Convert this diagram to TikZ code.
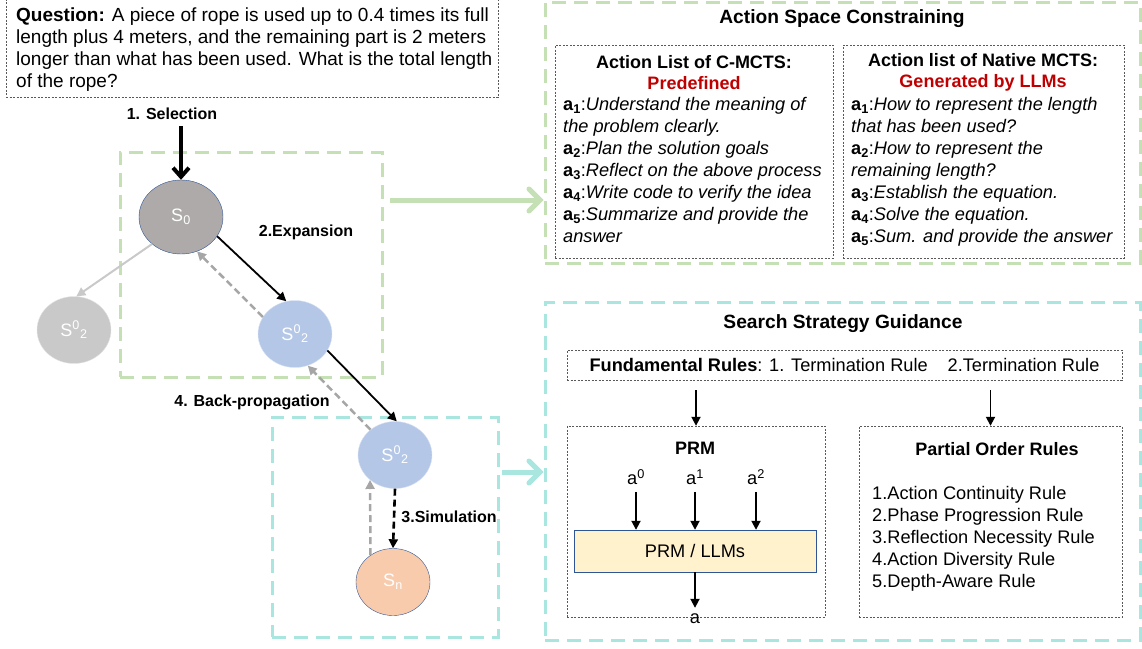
\documentclass[tikz,border=0pt]{standalone}
\usepackage{fontspec}
\setmainfont{Liberation Sans}
\usetikzlibrary{arrows.meta, calc, positioning, shapes.geometric}
\definecolor{BoxGreen}{HTML}{C5E0B4}
\definecolor{BoxCyan}{HTML}{A9E6DF}
\definecolor{StateGray}{HTML}{AEAAAA}
\definecolor{StateLight}{HTML}{C9C9C9}
\definecolor{StateBlue}{HTML}{B4C7E7}
\definecolor{StateOrange}{HTML}{F8CBAD}
\definecolor{RimBlue}{HTML}{2F5597}
\definecolor{TextRed}{HTML}{C00000}
\definecolor{PRMYellow}{HTML}{FFF2CC}
\definecolor{BackGray}{HTML}{A6A6A6}

\begin{document}
\begin{tikzpicture}[x = 1pt, y = -1pt]%
    %
    \def\statewidth{74pt}%
    \def\stateheight{67pt}%
    %
    \tikzstyle{state} = [ellipse, minimum width = \statewidth, minimum height = \stateheight, inner sep = 0pt, text = white, font = \fontsize{18}{20}\selectfont]%
    \tikzstyle{stepname} = [font = \fontsize{16}{18}\selectfont\bfseries, inner sep = 0pt]%
    \tikzstyle{body} = [font = \fontsize{18.2}{22}\selectfont, inner sep = 0pt]%
    \tikzstyle{title} = [font = \fontsize{19.2}{21}\selectfont\bfseries, inner sep = 0pt]%
    \tikzstyle{subtitle} = [font = \fontsize{18}{21}\selectfont\bfseries, inner sep = 0pt]%
    \tikzstyle{dotbox} = [draw = black!65, dash pattern = on 2pt off 1.5pt, thin, inner sep = 0pt]%
    \tikzstyle{greenbox} = [draw = BoxGreen, line width = 3pt, dash pattern = on 14pt off 8pt, inner sep = 0pt]%
    \tikzstyle{cyanbox} = [greenbox, draw = BoxCyan]%
    \tikzstyle{arrow} = [-{Triangle[length = 9pt, width = 9pt]}, line width = 1.8pt, draw = black]%
    \tikzstyle{backarrow} = [arrow, draw = BackGray, line width = 2.5pt, dash pattern = on 7pt off 4pt]%
    \tikzstyle{bigarrow} = [-{Straight Barb[length = 9pt, width = 16pt]}, line width = 4pt, draw = black]%
    \tikzstyle{flowarrow} = [-{Straight Barb[length = 11pt, width = 22pt, line cap = round]}, line width = 5pt]%
    %
    \useasboundingbox (0, 0) rectangle (1142, 648);%
    %
    % Question
    \node (question) [dotbox, minimum width = 492pt, minimum height = 98pt] at (252, 48) {};%
    \node (qtext) [body, font = \fontsize{19}{22}\selectfont, anchor = north west, align = left] at (16, 8) {\textbf{Question:} A piece of rope is used up to 0.4 times its full\\ length plus 4 meters, and the remaining part is 2 meters\\ longer than what has been used. What is the total length\\ of the rope?};%
    %
    % Phase boxes
    \node (expand) [greenbox, minimum width = 262pt, minimum height = 225pt] at (251, 264.5) {};%
    \node (simulate) [cyanbox, minimum width = 226pt, minimum height = 220pt] at (385, 527) {};%
    %
    % States
    \node (s0) [state, fill = StateGray, draw = RimBlue, minimum width = 84pt, minimum height = 74pt] at (181, 217) {S\textsubscript{0}};%
    \node (s1) [state, fill = StateLight, draw = StateLight!50] at (74, 330) {S\textsuperscript{0}\textsubscript{2}};%
    \node (s2) [state, fill = StateBlue, draw = StateBlue!50] at (295, 334) {S\textsuperscript{0}\textsubscript{2}};%
    \node (s3) [state, fill = StateBlue, draw = StateBlue!50] at (395, 455) {S\textsuperscript{0}\textsubscript{2}};%
    \node (sn) [state, fill = StateOrange, draw = RimBlue] at (393, 582) {S\textsubscript{n}};%
    %
    % Step names
    \node (selection) [stepname] at (172, 114) {1. Selection};%
    \node (expansion) [stepname] at (306, 232) {2.Expansion};%
    \node (backprop) [stepname] at (252, 402) {4. Back-propagation};%
    \node (simulation) [stepname] at (449, 517) {3.Simulation};%
    %
    % Tree edges
    \draw [bigarrow] (s0.north |- selection.south) ++(0, 6) -- (s0.north);%
    \draw [arrow, draw = StateLight, line width = 2pt] (s0.-137) -- (s1.86);%
    \draw [arrow] (s0.-28) -- (s2.105);%
    \draw [arrow] (s2.-27) -- (s3.87);%
    \draw [arrow, line width = 2.6pt, dash pattern = on 7pt off 4pt] (s3.-90) -- (sn.90);%
    %
    % Back-propagation
    \draw [backarrow] (sn.130) -- (s3.-135);%
    \draw [backarrow] (s3.134) -- (s2.-68);%
    \draw [backarrow] (s2.152) -- (s0.-65);%
    %
    % Action space
    \node (asc) [greenbox, minimum width = 595pt, minimum height = 261pt] at (842.5, 132.5) {};%
    \node (asctitle) [title] at (842, 19) {Action Space Constraining};%
    \node (cmcts) [dotbox, minimum width = 278pt, minimum height = 213pt] at (694, 151.5) {};%
    \node (native) [dotbox, minimum width = 281pt, minimum height = 213pt] at (983.5, 151.5) {};%
    \node (cmctstitle) [subtitle, align = center] at (694, 72.5) {Action List of C-MCTS:\\ \textcolor{TextRed}{Predefined}};%
    \node (nativetitle) [subtitle, align = center] at (983, 72.5) {Action list of Native MCTS:\\ \textcolor{TextRed}{Generated by LLMs}};%
    \node (cmctslist) [body, anchor = north west, align = left] at (563, 97) {%
        \textbf{a\textsubscript{1}}:\textit{Understand the meaning of}\\
        \textit{the problem clearly.}\\
        \textbf{a\textsubscript{2}}:\textit{Plan the solution goals}\\
        \textbf{a\textsubscript{3}}:\textit{Reflect on the above process}\\
        \textbf{a\textsubscript{4}}:\textit{Write code to verify the idea}\\
        \textbf{a\textsubscript{5}}:\textit{Summarize and provide the}\\
        \textit{answer}};%
    \node (nativelist) [body, anchor = north west, align = left] at (851, 97) {%
        \textbf{a\textsubscript{1}}:\textit{How to represent the length}\\
        \textit{that has been used?}\\
        \textbf{a\textsubscript{2}}:\textit{How to represent the}\\
        \textit{remaining length?}\\
        \textbf{a\textsubscript{3}}:\textit{Establish the equation.}\\
        \textbf{a\textsubscript{4}}:\textit{Solve the equation.}\\
        \textbf{a\textsubscript{5}}:\textit{Sum. and provide the answer}};%
    %
    % Search strategy
    \node (ssg) [cyanbox, minimum width = 595pt, minimum height = 338pt] at (842.5, 471) {};%
    \node (ssgtitle) [title] at (843, 324) {Search Strategy Guidance};%
    \node (fundamental) [dotbox, body, minimum width = 555pt, minimum height = 30pt] at (844.5, 365) {\textbf{Fundamental Rules}: 1. Termination Rule\hspace{20pt}2.Termination Rule};%
    \node (prm) [dotbox, minimum width = 258pt, minimum height = 191pt] at (696, 521.5) {};%
    \node (por) [dotbox, minimum width = 263pt, minimum height = 191pt] at (990.5, 521.5) {};%
    \draw [arrow] (fundamental.south -| prm.north) ++(0, 10) -- (prm.north);%
    \draw [arrow] (fundamental.south -| por.north) ++(0, 10) -- (por.north);%
    %
    % PRM
    \node (prmtitle) [subtitle] at (695, 448) {PRM};%
    \node (llm) [body, draw = RimBlue, fill = PRMYellow, minimum width = 242pt, minimum height = 42pt] at (695, 551) {PRM / LLMs};%
    \node (a0) [body] at (636, 477) {a\textsuperscript{0}};%
    \node (a1) [body] at (695, 477) {a\textsuperscript{1}};%
    \node (a2) [body] at (756, 477) {a\textsuperscript{2}};%
    \node (aout) [body] at (695, 619) {a};%
    \foreach \a in {a0, a1, a2}%
        \draw [arrow] (\a.south) ++(0, 7) -- (\a.south |- llm.north);%
    \draw [arrow] (llm.south) -- ($(aout.north) + (0, -6)$);%
    %
    % Partial order
    \node (portitle) [subtitle] at (997, 449) {Partial Order Rules};%
    \node (porlist) [body, anchor = north west, align = left] at (872, 486) {1.Action Continuity Rule\\ 2.Phase Progression Rule\\ 3.Reflection Necessity Rule\\ 4.Action Diversity Rule\\ 5.Depth-Aware Rule};%
    %
    % Links to the right
    \coordinate (gin) at (390, 200);%
    \coordinate (cin) at (502, 472);%
    \draw [flowarrow, draw = BoxGreen] (gin) -- (gin -| asc.west);%
    \draw [flowarrow, draw = BoxCyan] (cin) -- (cin -| ssg.west);%
    %
\end{tikzpicture}
\end{document}
